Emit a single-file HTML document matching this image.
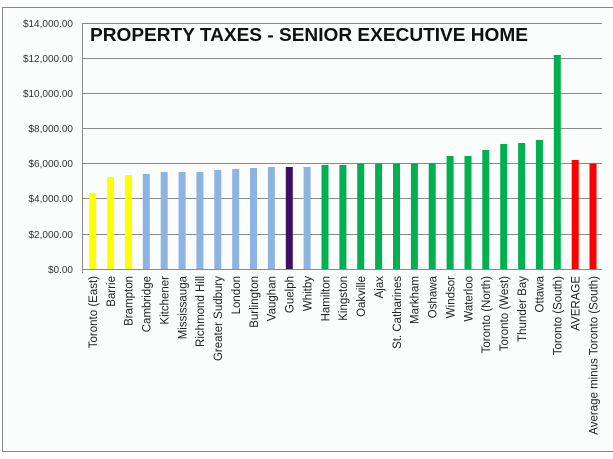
<!DOCTYPE html>
<html><head><meta charset="utf-8"><style>
html,body{margin:0;padding:0;background:#fff;}
svg{display:block;font-family:"Liberation Sans",sans-serif;}
</style></head><body>
<svg width="613" height="459" viewBox="0 0 613 459" xmlns="http://www.w3.org/2000/svg">
<rect x="0" y="0" width="613" height="459" fill="#fff"/>
<rect x="2.5" y="7.5" width="620" height="444" fill="#fbfcfc" stroke="#888" stroke-width="1"/>
<g stroke="#8a8a8a" stroke-width="1">
<line x1="82" y1="23.5" x2="602" y2="23.5"/>
<line x1="82" y1="58.5" x2="602" y2="58.5"/>
<line x1="82" y1="93.5" x2="602" y2="93.5"/>
<line x1="82" y1="128.5" x2="602" y2="128.5"/>
<line x1="82" y1="163.5" x2="602" y2="163.5"/>
<line x1="82" y1="198.5" x2="602" y2="198.5"/>
<line x1="82" y1="234.5" x2="602" y2="234.5"/>
<line x1="82" y1="269.5" x2="602" y2="269.5"/>
<line x1="82.5" y1="23" x2="82.5" y2="273"/>
</g>
<g font-size="10" fill="#333" text-anchor="end">
<text x="73" y="27">$14,000.00</text>
<text x="73" y="62">$12,000.00</text>
<text x="73" y="97">$10,000.00</text>
<text x="73" y="132">$8,000.00</text>
<text x="73" y="167">$6,000.00</text>
<text x="73" y="202">$4,000.00</text>
<text x="73" y="238">$2,000.00</text>
<text x="73" y="273">$0.00</text>
</g>
<text x="90" y="41" font-size="18" font-weight="bold" fill="#111" textLength="438" lengthAdjust="spacingAndGlyphs">PROPERTY TAXES - SENIOR EXECUTIVE HOME</text>
<g>
<rect x="89.2" y="193" width="7" height="76" fill="#ffff00"/>
<rect x="107.1" y="177" width="7" height="92" fill="#ffff00"/>
<rect x="124.9" y="175" width="7" height="94" fill="#ffff00"/>
<rect x="142.8" y="174" width="7" height="95" fill="#8db3e2"/>
<rect x="160.7" y="172" width="7" height="97" fill="#8db3e2"/>
<rect x="178.6" y="172" width="7" height="97" fill="#8db3e2"/>
<rect x="196.4" y="172" width="7" height="97" fill="#8db3e2"/>
<rect x="214.3" y="170" width="7" height="99" fill="#8db3e2"/>
<rect x="232.2" y="169" width="7" height="100" fill="#8db3e2"/>
<rect x="250.0" y="168" width="7" height="101" fill="#8db3e2"/>
<rect x="267.9" y="167" width="7" height="102" fill="#8db3e2"/>
<rect x="285.8" y="167" width="7" height="102" fill="#3f1163"/>
<rect x="303.6" y="167" width="7" height="102" fill="#8db3e2"/>
<rect x="321.5" y="165" width="7" height="104" fill="#00b050"/>
<rect x="339.4" y="165" width="7" height="104" fill="#00b050"/>
<rect x="357.2" y="163.5" width="7" height="105.5" fill="#00b050"/>
<rect x="375.1" y="163.5" width="7" height="105.5" fill="#00b050"/>
<rect x="393.0" y="163.5" width="7" height="105.5" fill="#00b050"/>
<rect x="410.9" y="163.5" width="7" height="105.5" fill="#00b050"/>
<rect x="428.7" y="163" width="7" height="106" fill="#00b050"/>
<rect x="446.6" y="156" width="7" height="113" fill="#00b050"/>
<rect x="464.5" y="156" width="7" height="113" fill="#00b050"/>
<rect x="482.3" y="150" width="7" height="119" fill="#00b050"/>
<rect x="500.2" y="144" width="7" height="125" fill="#00b050"/>
<rect x="518.1" y="143" width="7" height="126" fill="#00b050"/>
<rect x="535.9" y="140" width="7" height="129" fill="#00b050"/>
<rect x="553.8" y="55" width="7" height="214" fill="#00b050"/>
<rect x="571.7" y="160" width="7" height="109" fill="#ff0000"/>
<rect x="589.5" y="163.5" width="7" height="105.5" fill="#ff0000"/>
</g>
<g font-size="11.5" fill="#222" text-anchor="end">
<text transform="translate(97,276) rotate(-90)">Toronto (East)</text>
<text transform="translate(114.9,276) rotate(-90)">Barrie</text>
<text transform="translate(132.7,276) rotate(-90)">Brampton</text>
<text transform="translate(150.6,276) rotate(-90)">Cambridge</text>
<text transform="translate(168.5,276) rotate(-90)">Kitchener</text>
<text transform="translate(186.4,276) rotate(-90)">Mississauga</text>
<text transform="translate(204.2,276) rotate(-90)">Richmond Hill</text>
<text transform="translate(222.1,276) rotate(-90)">Greater Sudbury</text>
<text transform="translate(240,276) rotate(-90)">London</text>
<text transform="translate(257.8,276) rotate(-90)">Burlington</text>
<text transform="translate(275.7,276) rotate(-90)">Vaughan</text>
<text transform="translate(293.6,276) rotate(-90)">Guelph</text>
<text transform="translate(311.4,276) rotate(-90)">Whitby</text>
<text transform="translate(329.3,276) rotate(-90)">Hamilton</text>
<text transform="translate(347.2,276) rotate(-90)">Kingston</text>
<text transform="translate(365,276) rotate(-90)">Oakville</text>
<text transform="translate(382.9,276) rotate(-90)">Ajax</text>
<text transform="translate(400.8,276) rotate(-90)">St. Catharines</text>
<text transform="translate(418.7,276) rotate(-90)">Markham</text>
<text transform="translate(436.5,276) rotate(-90)">Oshawa</text>
<text transform="translate(454.4,276) rotate(-90)">Windsor</text>
<text transform="translate(472.3,276) rotate(-90)">Waterloo</text>
<text transform="translate(490.1,276) rotate(-90)">Toronto (North)</text>
<text transform="translate(508,276) rotate(-90)">Toronto (West)</text>
<text transform="translate(525.9,276) rotate(-90)">Thunder Bay</text>
<text transform="translate(543.7,276) rotate(-90)">Ottawa</text>
<text transform="translate(561.6,276) rotate(-90)">Toronto (South)</text>
<text transform="translate(579.5,276) rotate(-90)">AVERAGE</text>
<text transform="translate(597.3,276) rotate(-90)">Average minus Toronto (South)</text>
</g>
</svg>
</body></html>
